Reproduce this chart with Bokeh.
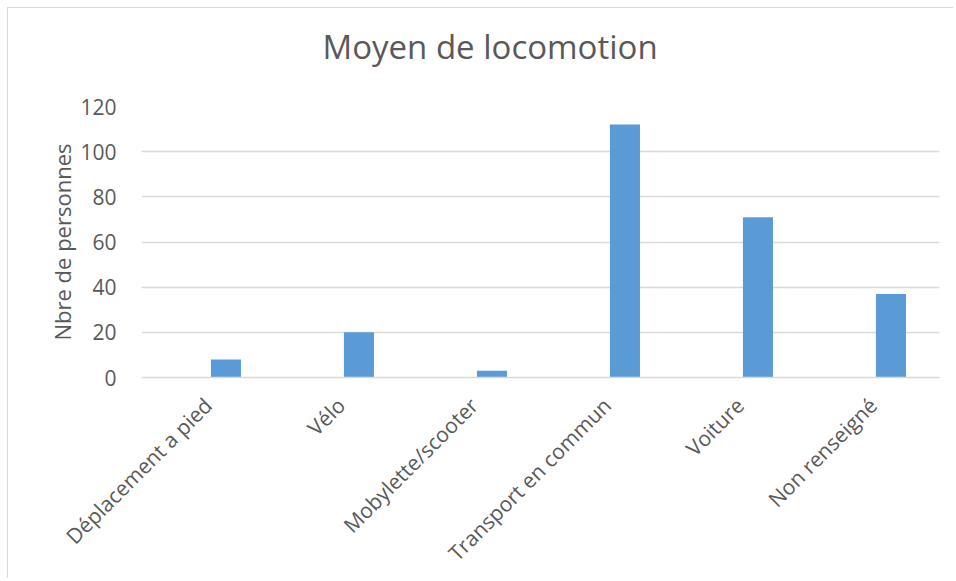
import math
from bokeh.plotting import figure
from bokeh.models import Range1d, FactorRange, ColumnDataSource, FixedTicker, Title
from bokeh.transform import dodge
from bokeh.embed import file_html
from bokeh.resources import INLINE

title_text = "Moyen de locomotion"
categories = ["Déplacement a pied", "Vélo", "Mobylette/scooter",
              "Transport en commun", "Voiture", "Non renseigné"]
values = [8, 20, 3, 112, 71, 37]
y_ticks = [0, 20, 40, 60, 80, 100, 120]

TEXT = "#595959"
GRID = "#d9d9d9"
BAR = "#5b9bd5"
FONT = "Open Sans"

src = ColumnDataSource(dict(cat=categories, val=values))

p = figure(width=946, height=571, output_backend="svg", toolbar_location=None,
           x_range=FactorRange(*categories, range_padding=0),
           y_range=Range1d(0, 120),
           min_border_left=133, min_border_right=15, min_border_top=98, min_border_bottom=202,
           title=title_text)
p.styles = {"margin-left": "7px", "margin-top": "7px",
            "border-left": "1px solid #d9d9d9", "border-top": "1px solid #d9d9d9"}

p.vbar(x=dodge("cat", 0.135, range=p.x_range), top="val", width=0.226, source=src,
       fill_color=BAR, line_color=None)

# empty spacer between the plot area and the title
p.add_layout(Title(text=" ", text_font_size="2px", standoff=34), "above")

p.title.align = "left"
p.title.offset = 181
p.title.text_font = FONT
p.title.text_font_size = "33px"
p.title.text_font_style = "normal"
p.title.text_color = TEXT
p.title.standoff = 0

p.outline_line_color = None
p.background_fill_color = "white"
p.border_fill_color = "white"

p.xgrid.grid_line_color = None
p.ygrid.grid_line_color = GRID
p.ygrid.grid_line_width = 1.6

p.yaxis.ticker = FixedTicker(ticks=y_ticks)
p.yaxis.axis_line_color = None
p.yaxis.major_tick_line_color = None
p.yaxis.minor_tick_line_color = None
p.yaxis.major_label_text_font = FONT
p.yaxis.major_label_text_font_size = "21px"
p.yaxis.major_label_text_color = TEXT
p.yaxis.major_label_standoff = 19
p.yaxis.axis_label = "Nbre de personnes"
p.yaxis.axis_label_text_font = FONT
p.yaxis.axis_label_text_font_size = "22px"
p.yaxis.axis_label_text_font_style = "normal"
p.yaxis.axis_label_text_color = TEXT
p.yaxis.axis_label_standoff = 0

p.xaxis.axis_line_color = GRID
p.xaxis.axis_line_width = 1.6
p.xaxis.major_tick_line_color = None
p.xaxis.minor_tick_line_color = None
p.xaxis.major_label_orientation = math.pi / 4
p.xaxis.major_label_text_font = FONT
p.xaxis.major_label_text_font_size = "21px"
p.xaxis.major_label_text_color = TEXT
p.xaxis.major_label_standoff = 18

open("out.html", "w").write(file_html(p, INLINE))
